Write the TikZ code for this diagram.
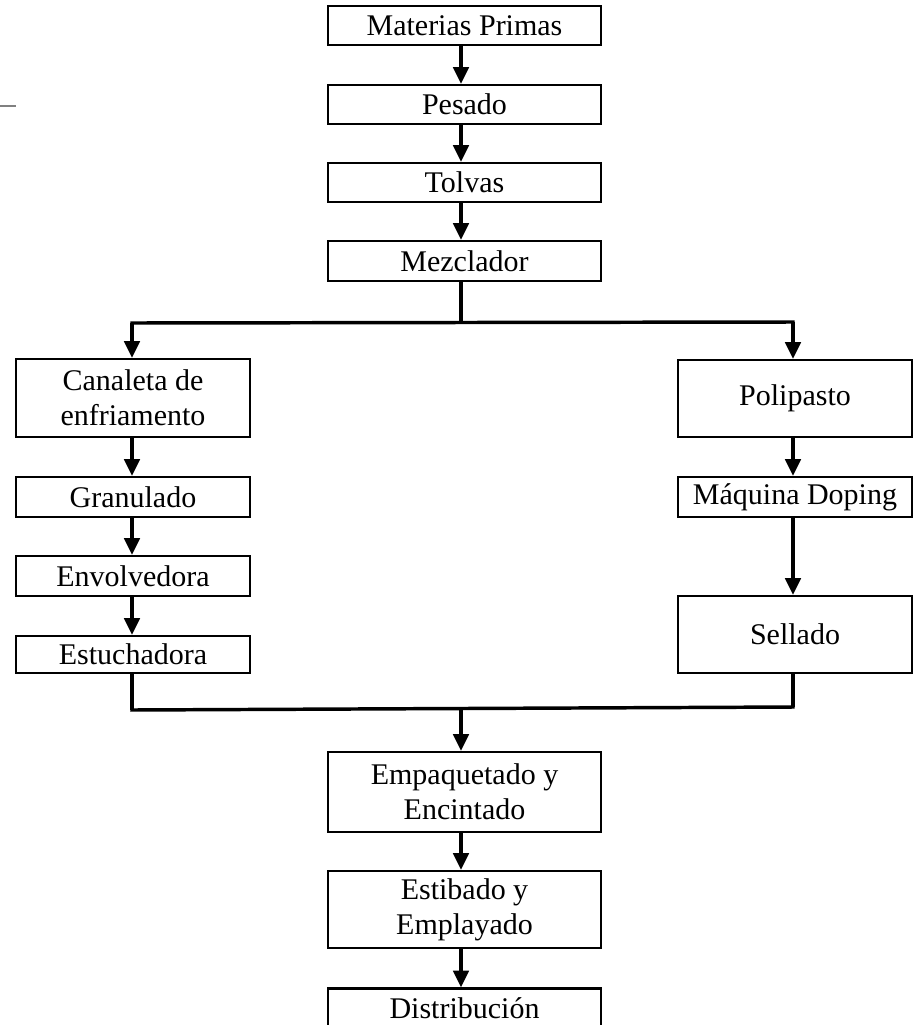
\documentclass[tikz,border=0pt]{standalone}
\usepackage{fontspec}
\setmainfont{Liberation Serif}
\usetikzlibrary{arrows.meta}
\tikzset{
  box/.style 2 args={draw, line width=1.7pt, inner sep=0pt, align=center,
    minimum width=#1*0.75pt, minimum height=#2*0.75pt,
    font=\fontsize{22.5}{26.3}\selectfont},
  arr/.style={line width=2.6pt, -{Triangle[length=12.5pt,width=11.5pt]}},
  ln/.style={line width=2.6pt},
}
\begin{document}
\begin{tikzpicture}[x=0.75pt,y=-0.75pt]
\useasboundingbox (0,0) rectangle (916,1025);
\clip (0,0) rectangle (916,1025);
% top column
\node[box={273}{39}] (mp) at (464.5,25.5) {Materias Primas};
\node[box={273}{39}] (pes) at (464.5,104.5) {Pesado};
\node[box={273}{39}] (tol) at (464.5,182.5) {Tolvas};
\node[box={273}{40}] (mez) at (464.5,261) {Mezclador};
% left column
\node[box={234}{78}] (can) at (133,398) {Canaleta de\\enfriamento};
\node[box={234}{40}] (gra) at (133,497) {Granulado};
\node[box={234}{40}] (env) at (133,576) {Envolvedora};
\node[box={234}{37}] (est) at (133,654.5) {Estuchadora};
% right column
\node[box={234}{77}] (pol) at (795,398.5) {Polipasto};
\node[box={234}{40}] (maq) at (795,497) {Máquina Doping};
\node[box={234}{77}] (sel) at (795,634.5) {Sellado};
% bottom column
\node[box={273}{80}] (emp) at (464.5,792) {Empaquetado y\\Encintado};
\node[box={273}{77}] (esb) at (464.5,909.5) {Estibado y\\Emplayado};
\node[box={273}{39}] (dis) at (464.5,1008) {Distribución};
% coordinates
\coordinate (split) at (461,322);
\coordinate (lsplit) at (132,323);
\coordinate (rsplit) at (793,322);
\coordinate (ljoin) at (132,710);
\coordinate (rjoin) at (793,707);
\coordinate (mjoin) at (461,708.5);
% top arrows
\draw[arr] (mp.south -| split) -- (pes.north -| split);
\draw[arr] (pes.south -| split) -- (tol.north -| split);
\draw[arr] (tol.south -| split) -- (mez.north -| split);
% split
\draw[ln] (mez.south -| split) -- (split);
\draw[ln, line cap=rect] (lsplit) -- (rsplit);
\draw[arr] (lsplit) -- (can.north -| lsplit);
\draw[arr] (rsplit) -- (pol.north -| rsplit);
% left column arrows
\draw[arr] (can.south -| lsplit) -- (gra.north -| lsplit);
\draw[arr] (gra.south -| lsplit) -- (env.north -| lsplit);
\draw[arr] (env.south -| lsplit) -- (est.north -| lsplit);
% right column arrows
\draw[arr] (pol.south -| rsplit) -- (maq.north -| rsplit);
\draw[arr] (maq.south -| rsplit) -- (sel.north -| rsplit);
% join
\draw[ln] (est.south -| ljoin) -- (ljoin);
\draw[ln] (sel.south -| rjoin) -- (rjoin);
\draw[ln, line cap=rect] (ljoin) -- (rjoin);
\draw[arr] (mjoin) -- (emp.north -| mjoin);
% bottom arrows
\draw[arr] (emp.south -| mjoin) -- (esb.north -| mjoin);
\draw[arr] (esb.south -| mjoin) -- (dis.north -| mjoin);
% stray mark
\draw[gray, line width=0.9pt] (0,106) -- (16,106);
\end{tikzpicture}
\end{document}
